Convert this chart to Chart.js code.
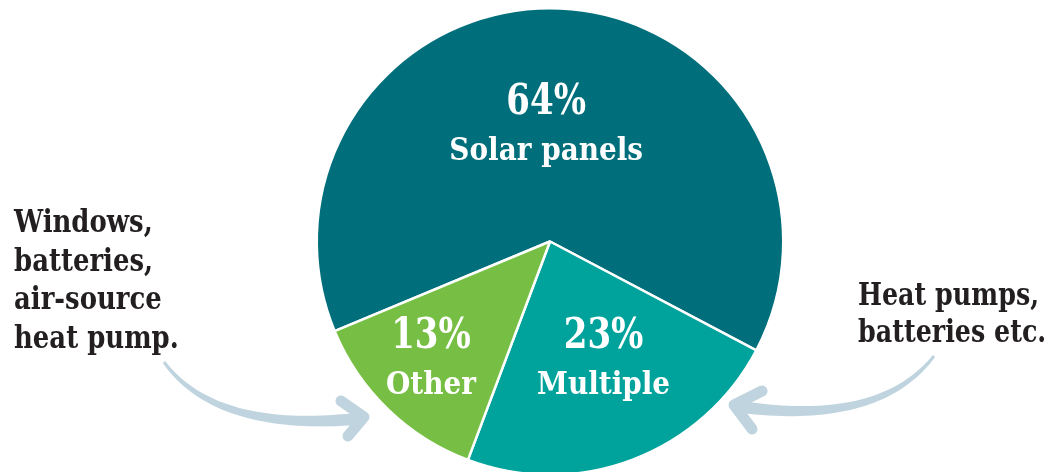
<!DOCTYPE html>
<html>
<head>
<meta charset="utf-8">
<script src="https://cdn.jsdelivr.net/npm/chart.js@4/dist/chart.umd.min.js"></script>
<style>
  html, body { margin: 0; padding: 0; background: #fff; overflow: hidden; }
  #wrap { position: absolute; left: 0; top: 0; width: 1048px; height: 476px; }
</style>
</head>
<body>
<div id="wrap"><canvas id="chart-pie"></canvas></div>
<script>
// data
const categories = ["Solar panels", "Multiple", "Other"];
const shares = [64, 23, 13];
const sliceColors = ["#006f7b", "#00a39c", "#77bf44"];
// notes beside the pie
const leftNote = ["Windows,", "batteries,", "air-source", "heat pump."];
const rightNote = ["Heat pumps,", "batteries etc."];

const FONT = "'DejaVu Serif Condensed', 'DejaVu Serif', serif";
const ink = "#231f20";
const arrowColor = "#bfd4df";

// label placement inside each slice: fraction of radius, x nudge
const labelPos = [
  { f: 0.49, dx: -9 },
  { f: 0.55, dx: 8 },
  { f: 0.71, dx: -4 },
];

// text squeezed horizontally (DejaVu is wider than the original slab face)
function squeezedText(ctx, text, x, y, sx) {
  ctx.save();
  ctx.translate(x, y);
  ctx.scale(sx, 1);
  ctx.fillText(text, 0, 0);
  ctx.restore();
}

function taperedArrow(ctx, p0, p1, p2, w0, w1, head) {
  const left = [], right = [];
  const n = 40;
  for (let i = 0; i <= n; i++) {
    const t = i / n, u = 1 - t;
    const x = u * u * p0[0] + 2 * u * t * p1[0] + t * t * p2[0];
    const y = u * u * p0[1] + 2 * u * t * p1[1] + t * t * p2[1];
    const tx = 2 * u * (p1[0] - p0[0]) + 2 * t * (p2[0] - p1[0]);
    const ty = 2 * u * (p1[1] - p0[1]) + 2 * t * (p2[1] - p1[1]);
    const len = Math.hypot(tx, ty);
    const w = (w0 + (w1 - w0) * t) / 2;
    left.push([x - (ty / len) * w, y + (tx / len) * w]);
    right.push([x + (ty / len) * w, y - (tx / len) * w]);
  }
  ctx.save();
  ctx.fillStyle = arrowColor;
  ctx.beginPath();
  left.forEach((p, i) => (i ? ctx.lineTo(p[0], p[1]) : ctx.moveTo(p[0], p[1])));
  for (let i = right.length - 1; i >= 0; i--) ctx.lineTo(right[i][0], right[i][1]);
  ctx.closePath();
  ctx.fill();
  // arrow head
  ctx.strokeStyle = arrowColor;
  ctx.lineWidth = 11;
  ctx.lineCap = "round";
  ctx.lineJoin = "round";
  ctx.beginPath();
  ctx.moveTo(head[1][0], head[1][1]);
  ctx.lineTo(head[0][0], head[0][1]);
  ctx.lineTo(head[2][0], head[2][1]);
  ctx.stroke();
  ctx.restore();
}

const sliceLabels = {
  id: "sliceLabels",
  afterDatasetsDraw(chart) {
    const ctx = chart.ctx;
    const arcs = chart.getDatasetMeta(0).data;
    ctx.save();
    ctx.fillStyle = "#fff";
    ctx.textAlign = "center";
    ctx.textBaseline = "middle";
    arcs.forEach((arc, i) => {
      const mid = (arc.startAngle + arc.endAngle) / 2;
      const r = arc.outerRadius * labelPos[i].f;
      const x = arc.x + Math.cos(mid) * r + labelPos[i].dx;
      const y = arc.y + Math.sin(mid) * r;
      ctx.font = "bold 42px " + FONT;
      squeezedText(ctx, shares[i] + "%", x, y - 24, 0.9);
      ctx.font = "bold 31px " + FONT;
      squeezedText(ctx, categories[i], x, y + 25, 1.0);
    });
    ctx.restore();
  },
};

const notes = {
  id: "notes",
  afterDraw(chart) {
    const ctx = chart.ctx;
    ctx.save();
    ctx.fillStyle = ink;
    ctx.textBaseline = "alphabetic";
    ctx.textAlign = "left";
    ctx.font = "bold 31px " + FONT;
    leftNote.forEach((line, i) => squeezedText(ctx, line, 14, 232 + i * 38.5, 0.93));
    rightNote.forEach((line, i) => squeezedText(ctx, line, 858, 305 + i * 37, 0.91));
    ctx.restore();

    taperedArrow(ctx, [164, 362], [215, 432], [356, 419], 3, 12,
      [[364, 417], [341, 401], [348, 436]]);
    taperedArrow(ctx, [934, 356], [880, 426], [742, 407], 3, 12,
      [[734, 405], [762, 391], [752, 429]]);
  },
};

new Chart(document.getElementById("chart-pie"), {
  type: "pie",
  data: {
    labels: categories,
    datasets: [
      {
        data: shares,
        backgroundColor: sliceColors,
        borderColor: "#ffffff",
        borderWidth: 2.5,
      },
    ],
  },
  options: {
    responsive: true,
    maintainAspectRatio: false,
    animation: false,
    rotation: 247.4,
    events: [],
    layout: { padding: { top: 7, bottom: 0, left: 52, right: 0 } },
    plugins: {
      legend: { display: false },
      tooltip: { enabled: false },
    },
  },
  plugins: [sliceLabels, notes],
});
</script>
</body>
</html>
